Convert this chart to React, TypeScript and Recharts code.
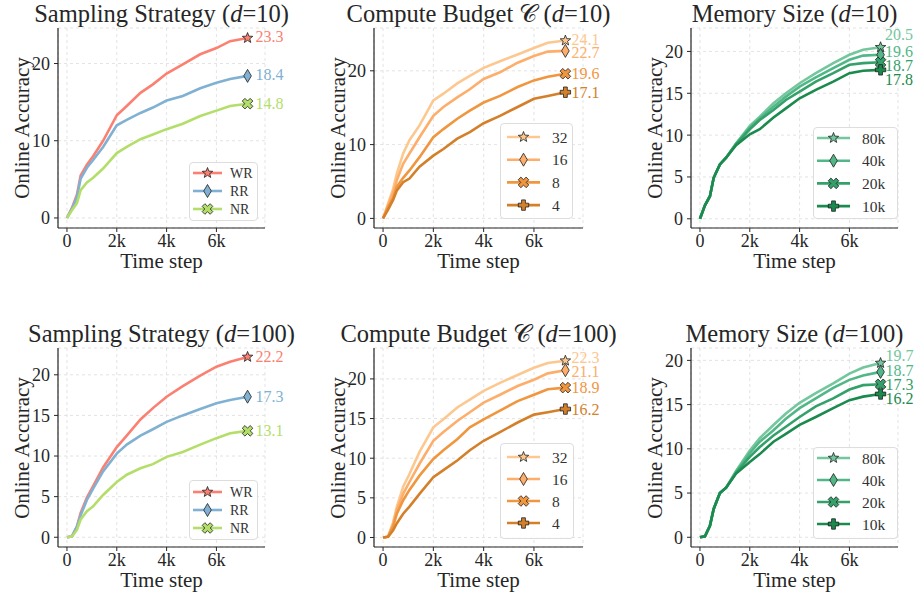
import React from "react";
import { LineChart, Line, XAxis, YAxis, CartesianGrid, LabelList } from "recharts";

const steps = [0, 200, 400, 550, 800, 1050, 1450, 2000, 2400, 2950, 3450, 4000, 4650, 5350, 6000, 6550, 7250];
const xTicks = [0, 2000, 4000, 6000];

// Sampling strategy, d=10
const wr10 = [0, 1.3, 3.0, 5.5, 6.9, 8.0, 10.0, 13.3, 14.5, 16.2, 17.3, 18.7, 19.9, 21.2, 22.0, 22.9, 23.3];
const rr10 = [0, 1.2, 2.7, 5.1, 6.5, 7.5, 9.2, 12.0, 12.7, 13.6, 14.3, 15.2, 15.8, 16.8, 17.5, 18.0, 18.4];
const nr10 = [0, 1.0, 1.9, 3.6, 4.6, 5.2, 6.4, 8.4, 9.2, 10.2, 10.8, 11.5, 12.2, 13.2, 13.9, 14.5, 14.8];

// Compute budget, d=10
const c32_10 = [0, 2.0, 4.0, 6.1, 8.8, 10.6, 12.6, 16.0, 16.9, 18.3, 19.3, 20.4, 21.3, 22.2, 23.1, 23.8, 24.1];
const c16_10 = [0, 1.8, 3.5, 5.2, 7.4, 8.8, 11.0, 13.9, 15.1, 16.4, 17.5, 18.9, 19.8, 21.1, 22.0, 22.6, 22.7];
const c8_10 = [0, 1.5, 2.8, 4.3, 5.5, 6.5, 8.3, 11.0, 12.1, 13.5, 14.6, 15.7, 16.6, 17.8, 18.7, 19.2, 19.6];
const c4_10 = [0, 1.2, 2.5, 3.8, 4.9, 5.4, 7.0, 8.5, 9.4, 10.8, 11.7, 12.9, 13.9, 15.1, 16.2, 16.6, 17.1];

// Memory size, d=10
const m80_10 = [0, 1.6, 2.7, 4.9, 6.5, 7.3, 9.0, 11.1, 12.2, 13.8, 15.0, 16.2, 17.4, 18.6, 19.6, 20.2, 20.5];
const m40_10 = [0, 1.6, 2.7, 4.9, 6.5, 7.3, 9.0, 10.9, 12.0, 13.4, 14.6, 15.8, 16.9, 18.0, 19.0, 19.5, 19.6];
const m20_10 = [0, 1.6, 2.7, 4.9, 6.5, 7.3, 8.9, 10.7, 11.8, 13.0, 14.2, 15.2, 16.4, 17.4, 18.4, 18.6, 18.7];
const m10_10 = [0, 1.6, 2.7, 4.9, 6.5, 7.3, 8.8, 10.1, 10.7, 12.1, 13.2, 14.4, 15.4, 16.4, 17.4, 17.7, 17.8];

// Sampling strategy, d=100
const wr100 = [0, 0.1, 1.3, 3.0, 4.9, 6.3, 8.6, 11.1, 12.5, 14.5, 15.9, 17.3, 18.6, 19.9, 21.0, 21.6, 22.2];
const rr100 = [0, 0.1, 1.3, 2.7, 4.6, 6.0, 8.1, 10.3, 11.4, 12.5, 13.3, 14.2, 15.0, 15.8, 16.5, 16.9, 17.3];
const nr100 = [0, 0.1, 0.9, 2.2, 3.2, 3.8, 5.2, 6.8, 7.7, 8.5, 9.0, 9.9, 10.5, 11.4, 12.2, 12.8, 13.1];

// Compute budget, d=100
const c32_100 = [0, 0.1, 1.9, 3.9, 6.4, 8.0, 10.8, 13.9, 14.9, 16.4, 17.4, 18.5, 19.5, 20.5, 21.4, 22.0, 22.3];
const c16_100 = [0, 0.1, 1.7, 3.5, 5.5, 7.0, 9.3, 12.2, 13.3, 14.7, 15.8, 17.0, 18.0, 19.1, 19.9, 20.7, 21.1];
const c8_100 = [0, 0.1, 1.4, 3.0, 4.7, 6.0, 7.8, 9.9, 11.0, 12.4, 13.9, 14.9, 16.0, 17.2, 18.0, 18.7, 18.9];
const c4_100 = [0, 0.1, 0.9, 1.8, 3.0, 3.9, 5.5, 7.6, 8.5, 9.7, 11.0, 12.2, 13.3, 14.5, 15.5, 15.8, 16.2];

// Memory size, d=100
const m80_100 = [0, 0.1, 1.3, 3.2, 5.0, 5.6, 7.5, 9.8, 11.2, 12.7, 14.0, 15.2, 16.3, 17.4, 18.5, 19.2, 19.7];
const m40_100 = [0, 0.1, 1.3, 3.2, 5.0, 5.6, 7.4, 9.5, 10.8, 12.1, 13.4, 14.6, 15.7, 16.9, 17.8, 18.3, 18.7];
const m20_100 = [0, 0.1, 1.3, 3.2, 5.0, 5.6, 7.3, 9.1, 10.2, 11.5, 12.5, 13.6, 14.8, 15.7, 16.7, 17.2, 17.3];
const m10_100 = [0, 0.1, 1.3, 3.2, 5.0, 5.6, 7.2, 8.5, 9.4, 10.8, 11.7, 12.7, 13.6, 14.6, 15.5, 15.9, 16.2];

const samplingNames = ["WR", "RR", "NR"];
const computeNames = ["32", "16", "8", "4"];
const memoryNames = ["80k", "40k", "20k", "10k"];

const SERIF = "'Liberation Serif', 'DejaVu Serif', serif";
const INK = "#262626";

type Shape = "star" | "diamond" | "x" | "plus";

const samplingColors = ["#fb8072", "#80b1d3", "#b3de69"];
const computeColors = ["#fdc890", "#fdae6b", "#f0963f", "#d4802a"];
const memoryColors = ["#74c69d", "#52b788", "#34a06a", "#1b8a4e"];
const shapes3: Shape[] = ["star", "diamond", "x"];
const shapes4: Shape[] = ["star", "diamond", "x", "plus"];

const crossPts = (a: number, L: number): [number, number][] => [
  [-a, -L], [a, -L], [a, -a], [L, -a], [L, a], [a, a],
  [a, L], [-a, L], [-a, a], [-L, a], [-L, -a], [-a, -a],
];

const markerPath = (shape: Shape, cx: number, cy: number) => {
  let pts: [number, number][] = [];
  if (shape === "star") {
    for (let i = 0; i < 10; i++) {
      const ang = ((-90 + i * 36) * Math.PI) / 180;
      const r = i % 2 === 0 ? 5.5 : 2.3;
      pts.push([Math.cos(ang) * r, Math.sin(ang) * r]);
    }
  } else if (shape === "diamond") {
    pts = [[0, -6.5], [3.8, 0], [0, 6.5], [-3.8, 0]];
  } else if (shape === "plus") {
    pts = crossPts(1.9, 5.2);
  } else {
    const c = Math.SQRT1_2;
    pts = crossPts(1.9, 5.6).map(([x, y]) => [c * (x - y), c * (x + y)] as [number, number]);
  }
  return "M" + pts.map(([x, y]) => `${(cx + x).toFixed(2)},${(cy + y).toFixed(2)}`).join("L") + "Z";
};

const Marker = ({ shape, cx, cy, fill }: { shape: Shape; cx: number; cy: number; fill: string }) => (
  <path d={markerPath(shape, cx, cy)} fill={fill} stroke="#1f1f1f" strokeWidth={0.8} />
);

interface PanelCfg {
  title: React.ReactNode;
  x: number;
  y: number;
  w: number;
  h: number;
  yDomain: [number, number];
  yTicks: number[];
  names: string[];
  values: number[][];
  colors: string[];
  shapes: Shape[];
  labelDx: number;
  labelDy: number[];
  legend: { dx: number; dy: number; w: number; h: number; row0: number; rowH: number; font: number; lx: number; lw: number; tx: number };
}

const d = (v: string) => (
  <>
    (<i>d</i>={v})
  </>
);

const panels: PanelCfg[] = [
  {
    title: <>Sampling Strategy {d("10")}</>,
    x: 58, y: 28, w: 207, h: 200,
    yDomain: [-1.3, 24.6], yTicks: [0, 10, 20],
    names: samplingNames, values: [wr10, rr10, nr10], colors: samplingColors, shapes: shapes3,
    labelDx: 8, labelDy: [-1.5, -1, 0],
    legend: { dx: 76, dy: 66, w: 69, h: 59, row0: 11, rowH: 18, font: 14, lx: 4, lw: 29, tx: 41 },
  },
  {
    title: <>Compute Budget 𝒞 {d("10")}</>,
    x: 374, y: 28, w: 209, h: 200,
    yDomain: [-1.3, 25.8], yTicks: [0, 10, 20],
    names: computeNames, values: [c32_10, c16_10, c8_10, c4_10], colors: computeColors, shapes: shapes4,
    labelDx: 6, labelDy: [-1.5, 2, 0, 0],
    legend: { dx: 83, dy: 105, w: 73, h: 96, row0: 14, rowH: 22.7, font: 15.5, lx: 7, lw: 33, tx: 52 },
  },
  {
    title: <>Memory Size {d("10")}</>,
    x: 691, y: 28, w: 207, h: 200,
    yDomain: [-1.1, 22.8], yTicks: [0, 5, 10, 15, 20],
    names: memoryNames, values: [m80_10, m40_10, m20_10, m10_10], colors: memoryColors, shapes: shapes4,
    labelDx: 4.5, labelDy: [-12.3, -3.7, 2.8, 9.4],
    legend: { dx: 85, dy: 101, w: 85, h: 92, row0: 11, rowH: 22.7, font: 15.5, lx: 4, lw: 33, tx: 49 },
  },
  {
    title: <>Sampling Strategy {d("100")}</>,
    x: 58, y: 348, w: 207, h: 199,
    yDomain: [-1.2, 23.3], yTicks: [0, 5, 10, 15, 20],
    names: samplingNames, values: [wr100, rr100, nr100], colors: samplingColors, shapes: shapes3,
    labelDx: 8, labelDy: [0, 0, 0],
    legend: { dx: 76, dy: 67, w: 69, h: 60, row0: 12, rowH: 18, font: 14, lx: 4, lw: 29, tx: 41 },
  },
  {
    title: <>Compute Budget 𝒞 {d("100")}</>,
    x: 374, y: 348, w: 209, h: 199,
    yDomain: [-1.2, 23.9], yTicks: [0, 5, 10, 15, 20],
    names: computeNames, values: [c32_100, c16_100, c8_100, c4_100], colors: computeColors, shapes: shapes4,
    labelDx: 6, labelDy: [-3, 1.5, 0, 0],
    legend: { dx: 83, dy: 104, w: 74, h: 96, row0: 14, rowH: 22, font: 15.5, lx: 7, lw: 33, tx: 52 },
  },
  {
    title: <>Memory Size {d("100")}</>,
    x: 691, y: 348, w: 207, h: 199,
    yDomain: [-1.1, 21.4], yTicks: [0, 5, 10, 15, 20],
    names: memoryNames, values: [m80_100, m40_100, m20_100, m10_100], colors: memoryColors, shapes: shapes4,
    labelDx: 5, labelDy: [-7.6, -1.4, 0.4, 4.8],
    legend: { dx: 85, dy: 100, w: 85, h: 92, row0: 11, rowH: 22, font: 15.5, lx: 4, lw: 33, tx: 49 },
  },
];

const YW = 50;
const XH = 30;
const MT = 10;
const MR = 60;
const last = steps.length - 1;

const Panel = ({ p }: { p: PanelCfg }) => {
  const data = steps.map((s, i) => {
    const row: Record<string, number> = { step: s };
    p.values.forEach((vals, k) => (row["s" + k] = vals[i]));
    return row;
  });
  const cx = p.x + p.w / 2;
  const lg = p.legend;
  return (
    <>
      <div style={{ position: "absolute", left: p.x - YW, top: p.y - MT }}>
        <LineChart
          width={p.w + YW + MR}
          height={p.h + XH + MT}
          data={data}
          margin={{ top: MT, right: MR, left: 0, bottom: 0 }}
        >
          <CartesianGrid stroke="#dcdcdc" strokeDasharray="3 3" strokeWidth={0.8} />
          <XAxis
            dataKey="step"
            type="number"
            domain={[-360, 7950]}
            allowDataOverflow
            ticks={xTicks}
            tickFormatter={(v: number) => (v === 0 ? "0" : `${v / 1000}k`)}
            height={XH}
            tickSize={4}
            tickMargin={2}
            axisLine={{ stroke: INK, strokeWidth: 1.2 }}
            tickLine={{ stroke: INK }}
            tick={{ fill: INK, fontSize: 18, fontFamily: SERIF }}
          />
          <YAxis
            type="number"
            domain={p.yDomain}
            allowDataOverflow
            ticks={p.yTicks}
            width={YW}
            tickSize={4}
            tickMargin={4}
            axisLine={{ stroke: INK, strokeWidth: 1.2 }}
            tickLine={{ stroke: INK }}
            tick={{ fill: INK, fontSize: 18, fontFamily: SERIF }}
          />
          {p.values.map((_, k) => (
            <Line
              key={k}
              dataKey={"s" + k}
              type="linear"
              stroke={p.colors[k]}
              strokeWidth={2.6}
              isAnimationActive={false}
              dot={(dp: any) =>
                dp.index === last ? (
                  <Marker key={dp.index} shape={p.shapes[k]} cx={dp.cx} cy={dp.cy} fill={p.colors[k]} />
                ) : (
                  <g key={dp.index} />
                )
              }
              activeDot={false}
            >
              <LabelList
                dataKey={"s" + k}
                content={(lp: any) =>
                  lp.index === last ? (
                    <text
                      x={lp.x + p.labelDx}
                      y={lp.y + p.labelDy[k]}
                      dominantBaseline="central"
                      fill={p.colors[k]}
                      fontSize={16}
                      fontFamily={SERIF}
                    >
                      {Number(lp.value).toFixed(1)}
                    </text>
                  ) : null
                }
              />
            </Line>
          ))}
        </LineChart>
      </div>
      <div
        style={{
          position: "absolute", left: cx, top: p.y - 5.5 - 21, transform: "translateX(-50%)",
          fontFamily: SERIF, fontSize: 24.5, lineHeight: 1, color: INK, whiteSpace: "nowrap",
        }}
      >
        {p.title}
      </div>
      <div
        style={{
          position: "absolute", left: cx, top: p.y + p.h + 40.5 - 17.6, transform: "translateX(-50%)",
          fontFamily: SERIF, fontSize: 21, lineHeight: 1, color: INK, whiteSpace: "nowrap",
        }}
      >
        Time step
      </div>
      <div
        style={{
          position: "absolute", left: p.x - 36, top: p.y + p.h / 2,
          transform: "translate(-50%, -50%) rotate(-90deg)",
          fontFamily: SERIF, fontSize: 21, lineHeight: 1, color: INK, whiteSpace: "nowrap",
        }}
      >
        Online Accuracy
      </div>
      <div
        style={{
          position: "absolute", left: p.x + p.w - lg.dx, top: p.y + p.h - lg.dy,
          width: lg.w, height: lg.h, boxSizing: "border-box",
          border: "1px solid #dddddd", borderRadius: 4, background: "rgba(255,255,255,0.85)",
        }}
      >
        <svg width={lg.w} height={lg.h} style={{ position: "absolute", left: -1, top: -1 }}>
          {p.names.map((n, k) => {
            const ry = lg.row0 + k * lg.rowH;
            return (
              <g key={n}>
                <line x1={lg.lx} x2={lg.lx + lg.lw} y1={ry} y2={ry} stroke={p.colors[k]} strokeWidth={2.6} />
                <Marker shape={p.shapes[k]} cx={lg.lx + lg.lw / 2} cy={ry} fill={p.colors[k]} />
                <text x={lg.tx} y={ry} dominantBaseline="central" fontSize={lg.font} fontFamily={SERIF} fill="#333">
                  {n}
                </text>
              </g>
            );
          })}
        </svg>
      </div>
    </>
  );
};

export default function App() {
  return (
    <div style={{ position: "absolute", left: 0, top: 0, width: 919, height: 596, background: "#fff" }}>
      {panels.map((p, i) => (
        <Panel key={i} p={p} />
      ))}
    </div>
  );
}
